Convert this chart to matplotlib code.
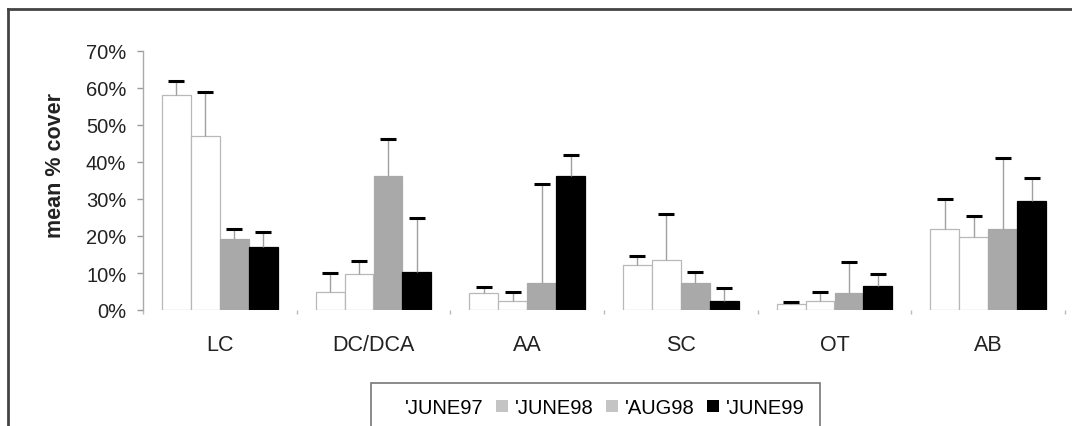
import matplotlib
matplotlib.use("Agg")
import matplotlib.pyplot as plt
import numpy as np
from matplotlib.patches import Patch
from matplotlib.lines import Line2D

plt.rcParams['font.family'] = ['Liberation Sans', 'DejaVu Sans']

categories = ['LC', 'DC/DCA', 'AA', 'SC', 'OT', 'AB']
series_names = ["'JUNE97", "'JUNE98", "'AUG98", "'JUNE99"]

june97 = [58.0, 5.0, 4.6, 12.2, 1.5, 22.0]
june97_err = [4.0, 5.0, 1.5, 2.4, 0.7, 8.0]
june98 = [47.0, 9.7, 2.5, 13.5, 2.5, 19.7]
june98_err = [12.0, 3.5, 2.5, 12.5, 2.4, 5.7]
aug98 = [19.2, 36.2, 7.3, 7.3, 4.6, 21.9]
aug98_err = [2.7, 10.0, 26.7, 2.9, 8.4, 19.1]
june99 = [17.0, 10.2, 36.2, 2.4, 6.5, 29.5]
june99_err = [4.0, 14.8, 5.8, 3.5, 3.2, 6.2]

yticks = [0, 10, 20, 30, 40, 50, 60, 70]
ytick_labels = ['0%', '10%', '20%', '30%', '40%', '50%', '60%', '70%']

values = [june97, june98, aug98, june99]
errors = [june97_err, june98_err, aug98_err, june99_err]
faces = ['white', 'white', '#a9a9a9', 'black']
edges = ['#b8b8b8', '#b8b8b8', '#a9a9a9', 'black']
legend_faces = ['white', '#c4c4c4', '#c4c4c4', 'black']

fig = plt.figure(figsize=(10.72, 4.27), dpi=100)
ax = fig.add_axes([143/1072, 1-311/427, (1065-143)/1072, (311-52)/427])

n = len(categories)
centers = np.arange(n) + 0.5
w = 0.188
for k, (vals, errs) in enumerate(zip(values, errors)):
    x = centers + (k - 1.5) * w
    v = np.array(vals) / 100.0
    e = np.array(errs) / 100.0
    ax.bar(x, v, width=w, color=faces[k], edgecolor=edges[k], linewidth=0.9, zorder=2)
    ax.errorbar(x, v, yerr=[np.zeros(n), e], fmt='none', ecolor='#a0a0a0',
                elinewidth=1.0, capsize=0, zorder=3)
    ax.plot(x, v + e, linestyle='none', marker='_', markersize=12,
            markeredgewidth=2.2, color='black', zorder=4)

ax.set_xlim(0, n)
ax.set_ylim(0, 0.70)
ax.set_yticks([t / 100 for t in yticks])
ax.set_yticklabels(ytick_labels, fontsize=14.5, color='#222222')
ax.tick_params(axis='y', length=4, width=1, color='#999999', pad=8)

ax.set_xticks(np.arange(n + 1))
ax.set_xticklabels([])
ax.tick_params(axis='x', which='major', length=3, width=1, color='#bbbbbb')
ax.set_xticks(centers, minor=True)
ax.set_xticklabels(categories, minor=True, fontsize=15.5, color='#222222')
ax.tick_params(axis='x', which='minor', length=0, pad=17)

for s in ['top', 'right', 'bottom']:
    ax.spines[s].set_visible(False)
ax.spines['left'].set_color('#aaaaaa')
ax.spines['left'].set_linewidth(1.0)

ax.set_ylabel('mean % cover', fontsize=15.5, fontweight='bold', color='#222222')
ax.yaxis.set_label_coords(-0.083, 0.56)

handles = [Patch(facecolor=legend_faces[k], edgecolor='none') for k in range(4)]
leg = fig.legend(handles, series_names, loc='upper left', ncol=4,
                 bbox_to_anchor=(371/1072, 1-384/427), fontsize=14.5,
                 frameon=True, fancybox=False, handlelength=0.6, handleheight=0.6,
                 handletextpad=0.35, columnspacing=0.6, borderpad=0.75,
                 borderaxespad=0)
leg.get_frame().set_edgecolor('#555555')
leg.get_frame().set_linewidth(1.2)

# outer chart frame
fig.add_artist(Line2D([8/1072, 8/1072], [0, 1-10/427], transform=fig.transFigure,
                      color='#444444', linewidth=2))
fig.add_artist(Line2D([8/1072, 1], [1-10/427, 1-10/427], transform=fig.transFigure,
                      color='#444444', linewidth=2))

fig.savefig('out.png', dpi=100, facecolor='white')
